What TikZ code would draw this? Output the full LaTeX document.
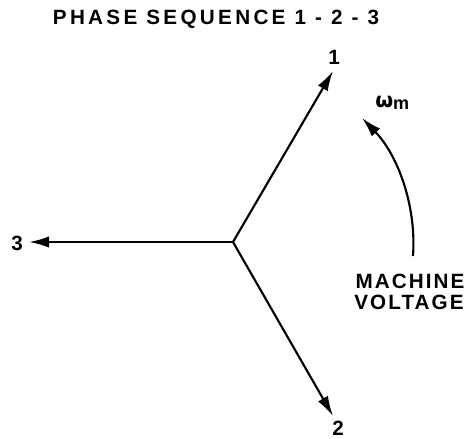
\documentclass[tikz,border=0pt]{standalone}
\usepackage{fontspec}
\setmainfont{Liberation Sans}[LetterSpace=10]
\newfontfamily\grk{DejaVu Sans}
\usetikzlibrary{arrows.meta}
\tikzset{
  vec/.style={line width=1.6pt,-{Latex[length=15pt,width=8.5pt]}},
  lbl/.style={inner sep=0pt,font=\bfseries\fontsize{15.5pt}{18pt}\selectfont},
}
\begin{document}
\begin{tikzpicture}[x=0.75pt,y=-0.75pt]
\useasboundingbox (0,0) rectangle (468,439);
\node[lbl] (title) at (216,19) {\addfontfeatures{LetterSpace=16}PHASE SEQUENCE 1 - 2 - 3};
\coordinate (c) at (233,242);
\coordinate (t1) at (333,71);
\coordinate (t2) at (333,416);
\coordinate (t3) at (29,242);
\node[lbl] (n1) at (334,57) {1};
\node[lbl] (n2) at (338,428) {2};
\node[lbl] (n3) at (17,243) {3};
\draw[vec] (c) -- (t1);
\draw[vec] (c) -- (t2);
\draw[vec] (c) -- (t3);
\coordinate (a0) at (413,256);
\coordinate (a1) at (362,118);
\draw[vec] (a0) .. controls (416.6,205) and (397.4,154.7) .. (a1);
\node[lbl,anchor=west] (w) at (375,103) {{\grk\bfseries ω}\raisebox{-1.5pt}{\fontsize{13.5pt}{15pt}\selectfont m}};
\node[lbl] (mach) at (410,281) {MACHINE};
\node[lbl] (volt) at (409,302) {VOLTAGE};
\end{tikzpicture}
\end{document}
